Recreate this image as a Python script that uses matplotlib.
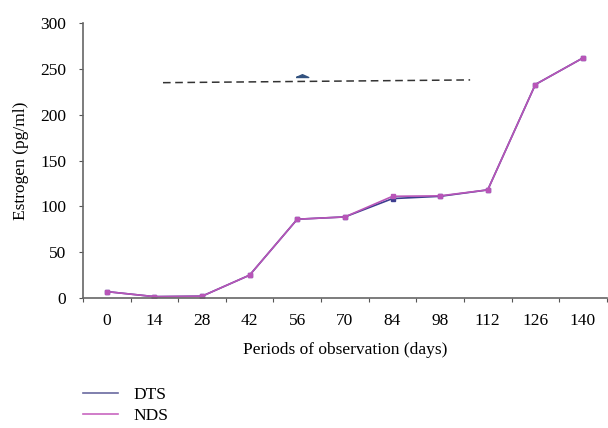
import matplotlib.pyplot as plt
from matplotlib.lines import Line2D

# observation days and estrogen levels (pg/ml)
days = [0, 14, 28, 42, 56, 70, 84, 98, 112, 126, 140]
dts = [7, 1.5, 2, 25, 86, 88.5, 108.5, 111, 118, 233, 262]
nds = [7, 1.5, 2, 25, 86, 88.5, 111, 111.5, 118, 233, 262]

# stray dashed guide and marker seen in the original figure
dash_x = [1.18, 7.63]
dash_y = [235, 238]
tri_x = [4.1]
tri_y = [241]

plt.rcParams['font.family'] = ['Liberation Serif', 'DejaVu Serif']
fs = 12.5

fig = plt.figure(figsize=(6.08, 4.28), dpi=100)
ax = fig.add_axes([0.1365, 0.3037, 0.8615, 0.6423])

pos = list(range(len(days)))
ax.plot(pos, dts, color='#3d3d8f', lw=1.2, marker='s', ms=2.2)
ax.plot(pos, nds, color='#b855b8', lw=1.2, marker='s', ms=2.2)
ax.plot(dash_x, dash_y, color='#333333', lw=1.1, ls=(0, (5, 3)))
# flat wedge marker, base sits on the point
wedge = [(-1, 0), (1, 0), (0, 0.45), (-1, 0)]
ax.plot(tri_x, tri_y, marker=wedge, color='#33527f', ms=9, ls='none')

ax.set_xlim(-0.5, len(days) - 0.5)
ax.set_ylim(0, 300)
ax.set_xticks([p - 0.5 for p in pos] + [len(days) - 0.5])
ax.set_xticklabels([])
ax.set_xticks(pos, minor=True)
ax.set_xticklabels([str(d) for d in days], minor=True)
ax.tick_params(axis='x', which='minor', length=0, labelsize=fs, pad=10.5)
ax.tick_params(axis='x', which='major', length=3, color='#555555', direction='out')
ax.set_yticks([0, 50, 100, 150, 200, 250, 300])
ax.tick_params(axis='y', length=3, color='#555555', labelsize=fs, pad=9)

for s in ['top', 'right']:
    ax.spines[s].set_visible(False)
for s in ['left', 'bottom']:
    ax.spines[s].set_color('#666666')
    ax.spines[s].set_linewidth(1.2)

ax.set_xlabel('Periods of observation (days)', fontsize=fs, labelpad=10)
ax.set_ylabel('Estrogen (pg/ml)', fontsize=fs, labelpad=8)

handles = [Line2D([0], [0], color='#6a6aa0', lw=1.2),
           Line2D([0], [0], color='#c866c0', lw=1.2)]
fig.legend(handles, ['DTS', 'NDS'], loc='upper left', bbox_to_anchor=(0.137, 0.095),
           frameon=False, fontsize=fs, handlelength=2.0, labelspacing=0.25,
           handletextpad=0.9, borderaxespad=0, borderpad=0)

fig.savefig('out.png', dpi=100)
